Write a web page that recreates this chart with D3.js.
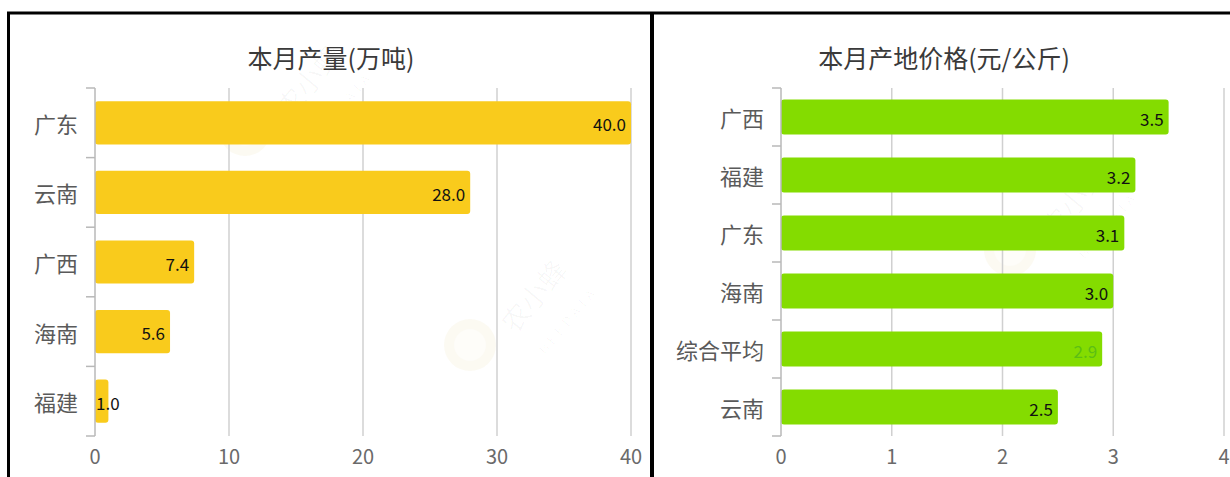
<!DOCTYPE html>
<html>
<head>
<meta charset="utf-8" />
<style>
  html, body {
    margin: 0;
    padding: 0;
    background: #fff;
  }
  svg text {
    font-family: "Noto Sans CJK SC", "Noto Sans", sans-serif;
  }
  .grid {
    stroke: #d0d0d0;
    stroke-width: 1.5px;
  }
  .yaxis line {
    stroke: #b8b8b8;
    stroke-width: 1.5px;
  }
  .title {
    fill: #3a3a3a;
    font-size: 25px;
  }
  .cat {
    fill: #5a5a5a;
    font-size: 22px;
  }
  .tick-label {
    fill: #6a6a6a;
    font-size: 20px;
  }
  .val {
    font-size: 17px;
  }
  .frame {
    stroke: #000;
  }
  .wm {
    fill: #c8a000;
    fill-opacity: 0.05;
  }
  .wmt {
    fill: #000;
    fill-opacity: 0.03;
  }
</style>
</head>
<body>
<div id="vis"></div>
<script src="https://cdn.jsdelivr.net/npm/d3@7/dist/d3.min.js"></script>
<script>
// ** DATA **
var outputCats = ["广东", "云南", "广西", "海南", "福建"];
var outputVals = [40.0, 28.0, 7.4, 5.6, 1.0];
var outputTicks = [0, 10, 20, 30, 40];

var priceCats = ["广西", "福建", "广东", "海南", "综合平均", "云南"];
var priceVals = [3.5, 3.2, 3.1, 3.0, 2.9, 2.5];
var priceTicks = [0, 1, 2, 3, 4];

var W = 1230, H = 477;

var svg = d3.select("#vis").append("svg")
    .attr("width", W).attr("height", H);

// faint watermarks (bee logo + text), roughly where they sit
var marks = [[245, 130], [470, 345], [1010, 250]];
var wm = svg.append("g");
marks.forEach(function(m) {
  var g = wm.append("g").attr("transform", "translate(" + m[0] + "," + m[1] + ")");
  g.append("circle").attr("class", "wm").attr("r", 26);
  g.append("circle").attr("r", 16).attr("fill", "#fff").attr("fill-opacity", 0.5);
  g.append("text").attr("class", "wmt")
    .attr("transform", "translate(45,-10) rotate(-50)")
    .attr("font-size", 28).text("农小蜂");
  g.append("text").attr("class", "wmt")
    .attr("transform", "translate(75,10) rotate(-50)")
    .attr("font-size", 13).attr("letter-spacing", 4).text("BEEDATA");
});

function drawPanel(o) {
  var g = svg.append("g");

  var x = d3.scaleLinear().domain([0, o.max]).range([o.x0, o.x1]);
  var y = d3.scaleBand().domain(o.cats).range([88, 436])
      .paddingInner(o.pad).paddingOuter(o.pad / 2);

  // title
  g.append("text").attr("class", "title")
    .attr("x", o.titleX).attr("y", 57)
    .attr("text-anchor", "middle").attr("dominant-baseline", "central")
    .text(o.title);

  // vertical grid lines
  g.selectAll(".grid").data(o.ticks.slice(1)).enter()
    .append("line").attr("class", "grid")
    .attr("x1", function(d) { return x(d); }).attr("x2", function(d) { return x(d); })
    .attr("y1", 88).attr("y2", 436);

  // x tick labels
  g.selectAll(".tick-label").data(o.ticks).enter()
    .append("text").attr("class", "tick-label")
    .attr("x", function(d) { return x(d); }).attr("y", 455)
    .attr("text-anchor", "middle").attr("dominant-baseline", "central")
    .text(function(d) { return d; });

  // bars
  g.selectAll(".bar").data(o.vals).enter()
    .append("rect").attr("class", "bar")
    .attr("x", x(0))
    .attr("y", function(d, i) { return y(o.cats[i]); })
    .attr("width", function(d) { return x(d) - x(0); })
    .attr("height", y.bandwidth())
    .attr("rx", 3)
    .attr("fill", o.color);

  // y axis with boundary ticks
  var ya = g.append("g").attr("class", "yaxis");
  ya.append("line").attr("x1", x(0)).attr("x2", x(0)).attr("y1", 88).attr("y2", 436);
  var bounds = d3.range(o.cats.length + 1).map(function(i) { return 88 + i * y.step(); });
  ya.selectAll(".yt").data(bounds).enter()
    .append("line").attr("class", "yt")
    .attr("x1", x(0) - 9).attr("x2", x(0))
    .attr("y1", function(d) { return d; }).attr("y2", function(d) { return d; });

  // category labels
  g.selectAll(".cat").data(o.cats).enter()
    .append("text").attr("class", "cat")
    .attr("x", x(0) - 17)
    .attr("y", function(d) { return y(d) + y.bandwidth() / 2; })
    .attr("text-anchor", "end").attr("dominant-baseline", "central")
    .text(function(d) { return d; });

  // value labels inside bar end
  g.selectAll(".val").data(o.vals).enter()
    .append("text").attr("class", "val")
    .attr("y", function(d, i) { return y(o.cats[i]) + y.bandwidth() / 2 + 1; })
    .attr("dominant-baseline", "central")
    .attr("fill", function(d, i) { return o.labelColors[i] || "#111"; })
    .text(function(d) { return d.toFixed(1); })
    .each(function(d) {
      var t = d3.select(this);
      var len = this.getComputedTextLength();
      var xe = x(d) - 5;
      if (xe - len < x(0) + 1) {
        t.attr("x", x(0) + 1).attr("text-anchor", "start");
      } else {
        t.attr("x", xe).attr("text-anchor", "end");
      }
    });
}

drawPanel({
  title: "本月产量(万吨)", titleX: 331,
  x0: 95, x1: 631, max: 40, pad: 0.38,
  cats: outputCats, vals: outputVals, ticks: outputTicks,
  color: "#f9cb1c", labelColors: []
});

drawPanel({
  title: "本月产地价格(元/公斤)", titleX: 944,
  x0: 781, x1: 1224, max: 4, pad: 0.4,
  cats: priceCats, vals: priceVals, ticks: priceTicks,
  color: "#84dc00", labelColors: [null, null, null, null, "#5cbf14", null]
});

// black frame lines around the panels
var frame = svg.append("g").attr("class", "frame");
frame.append("line").attr("x1", 7).attr("x2", W).attr("y1", 13).attr("y2", 13).attr("stroke-width", 3);
frame.append("line").attr("x1", 8.5).attr("x2", 8.5).attr("y1", 12).attr("y2", H).attr("stroke-width", 3);
frame.append("line").attr("x1", 652).attr("x2", 652).attr("y1", 12).attr("y2", H).attr("stroke-width", 4);
</script>
</body>
</html>
